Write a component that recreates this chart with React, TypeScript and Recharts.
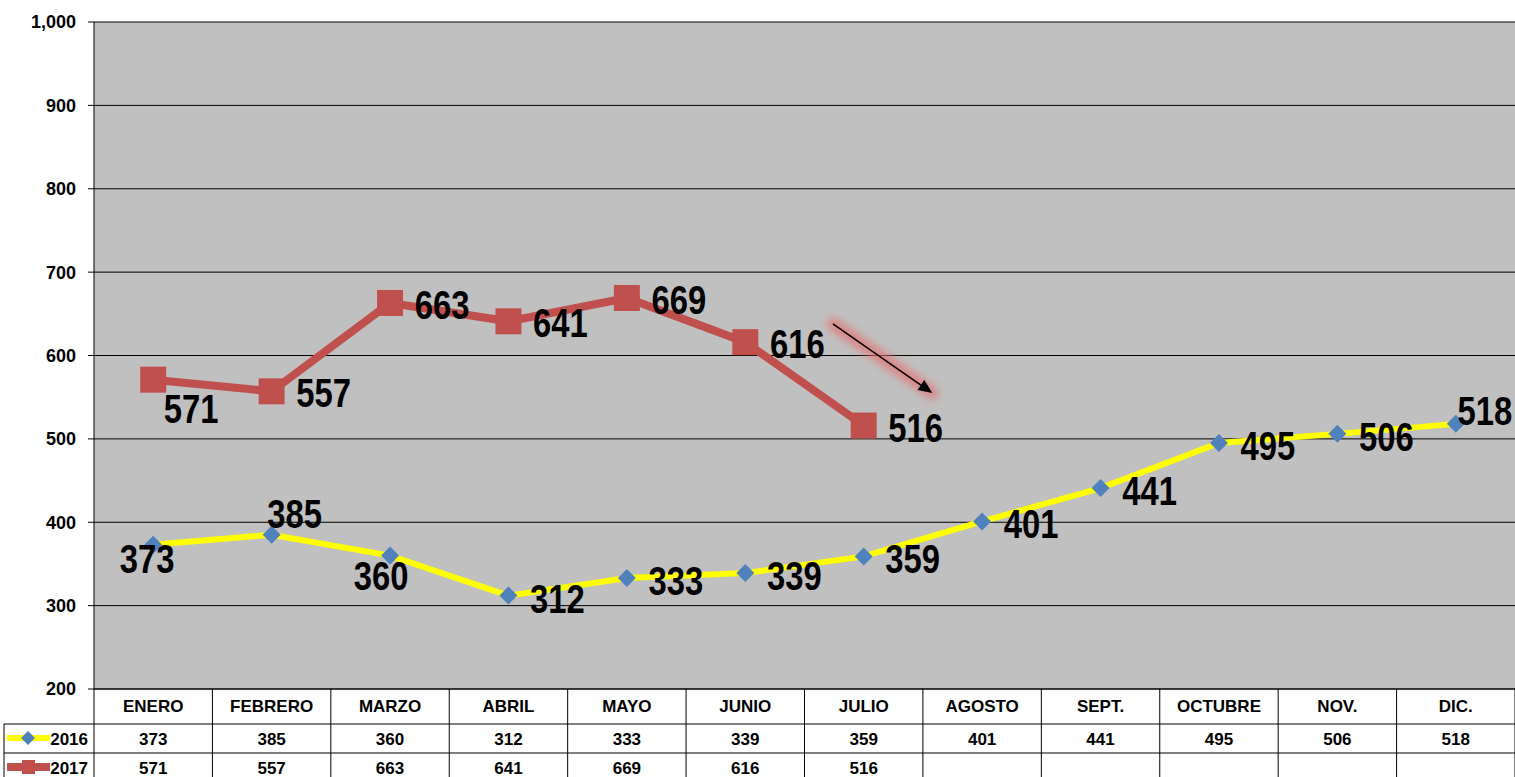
import React from "react"
import { LineChart, Line, XAxis, YAxis, CartesianGrid, LabelList, ReferenceLine } from "recharts"

const meses = ["ENERO", "FEBRERO", "MARZO", "ABRIL", "MAYO", "JUNIO", "JULIO", "AGOSTO", "SEPT.", "OCTUBRE", "NOV.", "DIC."]
const serie2016 = [373, 385, 360, 312, 333, 339, 359, 401, 441, 495, 506, 518]
const serie2017 = [571, 557, 663, 641, 669, 616, 516]
const yTicks = [200, 300, 400, 500, 600, 700, 800, 900, 1000]

const data = meses.map((mes, i) => ({
  i,
  mes,
  v2016: serie2016[i],
  v2017: i < serie2017.length ? serie2017[i] : null,
}))

const W = 1515
const H = 777
const PLOT_TOP = 22
const PLOT_LEFT = 94
const PLOT_BOTTOM = 689
const CELL = (W - PLOT_LEFT) / meses.length
const ROW1 = 724
const ROW2 = 753

const AMARILLO = "#ffff00"
const AZUL = "#4f81bd"
const ROJO = "#c0504d"
const SANS = "'Liberation Sans', Arial, sans-serif"

// label offsets (text centre relative to point)
const off2016: Record<number, [number, number]> = { 0: [-6, 13], 1: [23, -22], 2: [-9, 19], 11: [29, -14] }
const off2017: Record<number, [number, number]> = { 0: [38, 28] }

function makeLabel(offs: Record<number, [number, number]>, def: [number, number]) {
  return (props: any) => {
    const { x, y, value, index } = props
    if (value == null) return null
    const [dx, dy] = offs[index] ?? def
    return (
      <text
        transform={`translate(${x + dx},${y + dy + 15}) scale(0.8,1)`}
        textAnchor="middle"
        fontFamily={SANS}
        fontWeight={700}
        fontSize={41}
        fill="#000"
      >
        {value}
      </text>
    )
  }
}

function Diamond(props: any) {
  const { cx, cy } = props
  if (cx == null || cy == null) return null
  const r = 9
  return <polygon points={`${cx},${cy - r} ${cx + r},${cy} ${cx},${cy + r} ${cx - r},${cy}`} fill={AZUL} />
}

function Square(props: any) {
  const { cx, cy, value } = props
  if (cx == null || cy == null || value == null) return null
  return <rect x={cx - 13} y={cy - 13} width={26} height={26} fill={ROJO} />
}

function TablaTick(props: any) {
  const { x, payload } = props
  const i = payload.value as number
  const l = x - CELL / 2
  const r = x + CELL / 2
  const txt = { fontFamily: SANS, fontWeight: 700, fontSize: 17, fill: "#000", textAnchor: "middle" as const }
  return (
    <g>
      <line x1={r} y1={PLOT_BOTTOM} x2={r} y2={H} stroke="#000" />
      {i === 0 && <line x1={l} y1={PLOT_BOTTOM} x2={l} y2={H} stroke="#000" />}
      <line x1={l} y1={ROW1} x2={r} y2={ROW1} stroke="#000" />
      <line x1={l} y1={ROW2} x2={r} y2={ROW2} stroke="#000" />
      <text x={x} y={712} {...txt}>{meses[i]}</text>
      <text x={x} y={745} {...txt}>{serie2016[i]}</text>
      {serie2017[i] != null && <text x={x} y={774} {...txt}>{serie2017[i]}</text>}
      {i === 0 && (
        <g>
          <line x1={4} y1={ROW1} x2={l} y2={ROW1} stroke="#000" />
          <line x1={4} y1={ROW2} x2={l} y2={ROW2} stroke="#000" />
          <line x1={4} y1={ROW1} x2={4} y2={H} stroke="#000" />
          <line x1={7} y1={738} x2={50} y2={738} stroke={AMARILLO} strokeWidth={6} />
          <polygon points="28,731 35,738 28,745 21,738" fill={AZUL} />
          <text x={88} y={745} textAnchor="end" fontFamily={SANS} fontWeight={700} fontSize={17} fill="#000">2016</text>
          <line x1={7} y1={767} x2={50} y2={767} stroke={ROJO} strokeWidth={8} />
          <rect x={22} y={760} width={13} height={14} fill={ROJO} />
          <text x={88} y={774} textAnchor="end" fontFamily={SANS} fontWeight={700} fontSize={17} fill="#000">2017</text>
        </g>
      )}
    </g>
  )
}

function Flecha(props: any) {
  const { x1, y1, x2, y2 } = props
  if (x1 == null) return null
  const ang = Math.atan2(y2 - y1, x2 - x1)
  const len = 14
  const w = 6
  const bx = x2 - len * Math.cos(ang)
  const by = y2 - len * Math.sin(ang)
  const px = -Math.sin(ang) * w
  const py = Math.cos(ang) * w
  return (
    <g>
      <defs>
        <filter id="glow" x="-50%" y="-50%" width="200%" height="200%">
          <feGaussianBlur stdDeviation="4" />
        </filter>
      </defs>
      <line x1={x1} y1={y1} x2={x2} y2={y2} stroke="#e57373" strokeWidth={12} strokeLinecap="round" opacity={0.8} filter="url(#glow)" />
      <line x1={x1} y1={y1} x2={bx} y2={by} stroke="#000" strokeWidth={1.5} />
      <polygon points={`${x2},${y2} ${bx + px},${by + py} ${bx - px},${by - py}`} fill="#000" />
    </g>
  )
}

export default function App() {
  return (
    <div style={{ position: "absolute", left: 0, top: 0, width: W, height: H, background: "#fff" }}>
      <LineChart width={W} height={H} data={data} margin={{ top: PLOT_TOP, right: 0, left: 0, bottom: 0 }}>
        <CartesianGrid vertical={false} stroke="#000" fill="#c0c0c0" fillOpacity={1} />
        <XAxis
          dataKey="i"
          type="number"
          domain={[-0.5, 11.5]}
          ticks={meses.map((_, i) => i)}
          height={H - PLOT_BOTTOM}
          axisLine={{ stroke: "#000" }}
          tickLine={false}
          tick={<TablaTick />}
          interval={0}
        />
        <YAxis
          domain={[200, 1000]}
          ticks={yTicks}
          width={PLOT_LEFT}
          axisLine={{ stroke: "#000" }}
          tickLine={{ stroke: "#000" }}
          tickSize={6}
          tickMargin={12}
          tick={{ fontFamily: SANS, fontWeight: 700, fontSize: 18, fill: "#000" }}
          tickFormatter={(v: number) => v.toLocaleString("en-US")}
        />
        <ReferenceLine
          segment={[{ x: 5.74, y: 638 }, { x: 6.58, y: 555 }]}
          shape={(p: any) => <Flecha {...p} />}
        />
        <Line dataKey="v2016" stroke={AMARILLO} strokeWidth={6} dot={<Diamond />} activeDot={false} isAnimationActive={false}>
          <LabelList dataKey="v2016" content={makeLabel(off2016, [49, 2])} />
        </Line>
        <Line dataKey="v2017" stroke={ROJO} strokeWidth={8} dot={<Square />} activeDot={false} isAnimationActive={false}>
          <LabelList dataKey="v2017" content={makeLabel(off2017, [52, 1])} />
        </Line>
      </LineChart>
    </div>
  )
}
